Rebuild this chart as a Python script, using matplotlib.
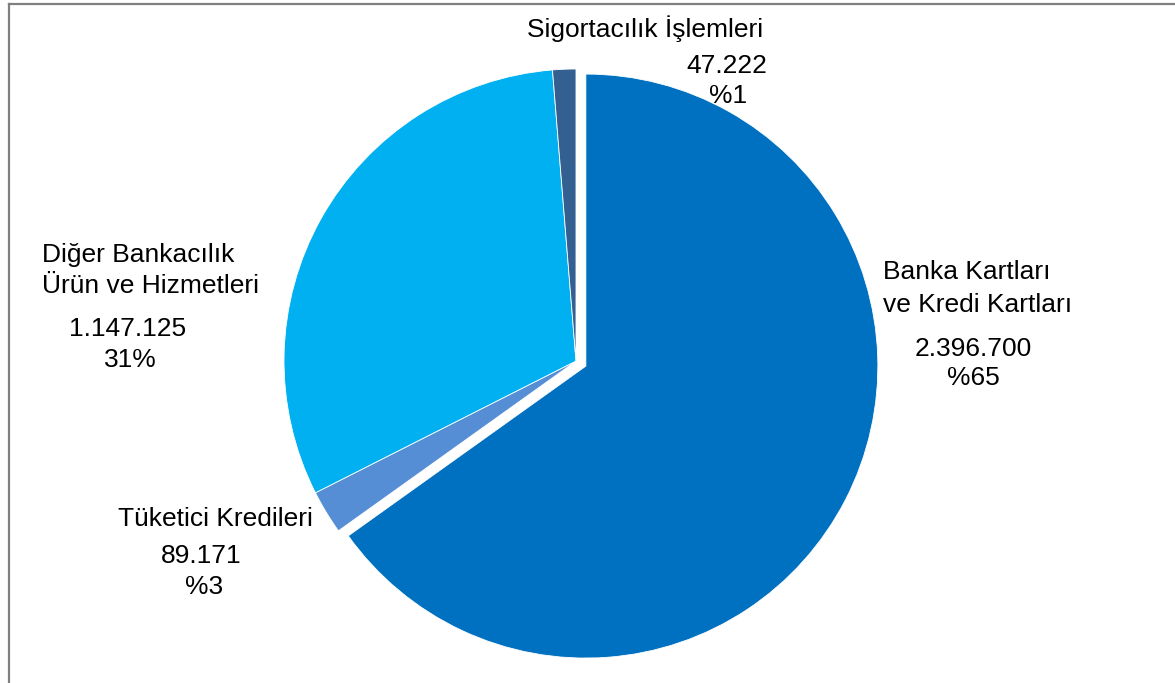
import matplotlib
matplotlib.use("Agg")
import matplotlib.pyplot as plt
from matplotlib.lines import Line2D

categories = ["Banka Kartları\nve Kredi Kartları", "Tüketici Kredileri",
              "Diğer Bankacılık\nÜrün ve Hizmetleri", "Sigortacılık İşlemleri"]
values = [2396700, 89171, 1147125, 47222]
value_labels = ["2.396.700", "89.171", "1.147.125", "47.222"]
pct_labels = ["%65", "%3", "31%", "%1"]
colors = ["#0070C0", "#558ED5", "#00B0F0", "#335F91"]
explode_frac = [0.038, 0, 0, 0]

W, H = 1175, 683
plt.rcParams['font.family'] = ['Liberation Sans', 'DejaVu Sans']
fig = plt.figure(figsize=(W / 100, H / 100), dpi=100)
ax = fig.add_axes([0, 0, 1, 1])

cx, cy, r = 576, H - 361, 292
ax.pie(values, colors=colors, explode=[e * r for e in explode_frac],
       startangle=90, counterclock=False,
       center=(cx, cy), radius=r, frame=True,
       wedgeprops=dict(edgecolor='white', linewidth=0.6))
ax.set_xlim(0, W)
ax.set_ylim(0, H)
ax.set_aspect('equal')
ax.axis('off')

fs = 19
def T(x, y, s, ha='center'):
    ax.text(x, H - y, s, ha=ha, va='baseline', fontsize=fs, color='black')

# Banka Kartları
b1, b2 = categories[0].split("\n")
T(883, 279, b1, ha='left')
T(883, 312, b2, ha='left')
T(973, 356, value_labels[0])
T(973, 385, pct_labels[0])
# Tüketici Kredileri
T(215, 526, categories[1])
T(201, 563, value_labels[1])
T(204, 594, pct_labels[1])
# Diğer
d1, d2 = categories[2].split("\n")
T(42, 262, d1, ha='left')
T(42, 293, d2, ha='left')
T(128, 336, value_labels[2])
T(130, 367, pct_labels[2])
# Sigortacılık
T(645, 37, categories[3])
T(727, 73, value_labels[3])
T(728, 103, pct_labels[3])

# frame lines
fig.add_artist(Line2D([8.5 / W, 8.5 / W], [0, 1 - 3.5 / H], transform=fig.transFigure,
                      color='#808080', linewidth=1.6))
fig.add_artist(Line2D([8.5 / W, 1], [1 - 3.5 / H, 1 - 3.5 / H], transform=fig.transFigure,
                      color='#808080', linewidth=1.6))

fig.savefig("out.png", dpi=100, facecolor='white')
